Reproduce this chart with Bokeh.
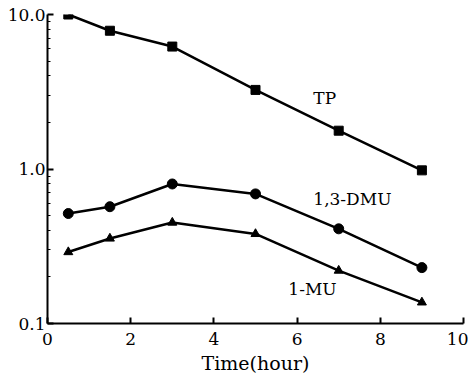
from bokeh.plotting import figure
from bokeh.models import FixedTicker, Label
from bokeh.embed import file_html
from bokeh.resources import INLINE

time = [0.5, 1.5, 3, 5, 7, 9]
tp = [10.0, 7.85, 6.2, 3.25, 1.77, 0.98]
dmu = [0.515, 0.57, 0.80, 0.69, 0.41, 0.23]
mu = [0.29, 0.355, 0.45, 0.38, 0.22, 0.137]
x_ticks = [0, 2, 4, 6, 8, 10]
y_ticks = [0.1, 1, 10]
y_tick_labels = ["0.1", "1.0", "10.0"]
series_labels = ["TP", "1,3-DMU", "1-MU"]
label_x = [6.39, 6.39, 5.79]
label_y = [2.47, 0.548, 0.1435]

FONT = "DejaVu Serif"

p = figure(width=468, height=376, y_axis_type="log",
           x_range=(0, 10), y_range=(0.1, 10),
           output_backend="svg", toolbar_location=None,
           min_border_left=47, min_border_right=5,
           min_border_top=14, min_border_bottom=53)
p.outline_line_color = None
p.xgrid.visible = False
p.ygrid.visible = False

lw = 2.5
p.line(time, tp, line_color="black", line_width=lw)
p.scatter(time, tp, marker="square", size=9, color="black")
p.line(time, dmu, line_color="black", line_width=lw)
p.scatter(time, dmu, marker="circle", size=10, color="black")
p.line(time, mu, line_color="black", line_width=lw)
p.scatter(time, mu, marker="triangle", size=9, color="black")

minor = [i * 0.1 for i in range(2, 10)] + [float(i) for i in range(2, 10)]
p.yaxis.ticker = FixedTicker(ticks=y_ticks, minor_ticks=minor)
p.yaxis.major_label_overrides = {t: l for t, l in zip(y_ticks, y_tick_labels)}
p.xaxis.ticker = FixedTicker(ticks=x_ticks, minor_ticks=[])

for ax in (p.xaxis, p.yaxis):
    ax.axis_line_width = 2
    ax.axis_line_color = "black"
    ax.major_tick_in = 6
    ax.major_tick_out = 0
    ax.major_tick_line_width = 2
    ax.minor_tick_in = 3
    ax.minor_tick_out = 0
    ax.major_label_text_font = FONT
    ax.major_label_text_font_size = "17px"
    ax.major_label_text_color = "black"
    ax.axis_label_text_font = FONT
    ax.axis_label_text_font_style = "normal"
    ax.axis_label_text_font_size = "19px"
    ax.axis_label_text_color = "black"

p.xaxis.axis_label = "Time(hour)"
p.xaxis.major_label_standoff = 9
p.xaxis.axis_label_standoff = 4
p.yaxis.major_label_standoff = 2

for txt, x, y in zip(series_labels, label_x, label_y):
    p.add_layout(Label(x=x, y=y, text=txt, text_font=FONT, text_font_size="17px",
                       text_color="black"))

open("out.html", "w").write(file_html(p, INLINE))
